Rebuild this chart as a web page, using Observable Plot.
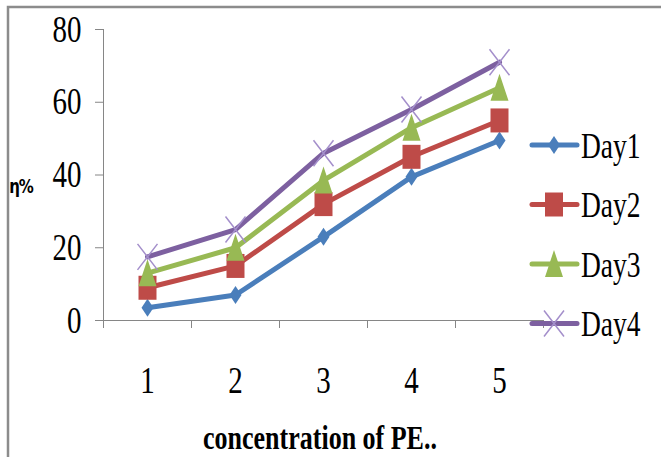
<!DOCTYPE html>
<html><head><meta charset="utf-8">
<script src="https://cdn.jsdelivr.net/npm/d3@7"></script>
<script src="https://cdn.jsdelivr.net/npm/@observablehq/plot@0.6"></script>
<style>
html,body{margin:0;padding:0;background:#fff;}
#chart{position:relative;width:661px;height:457px;overflow:hidden;}
</style></head>
<body><div id="chart"></div>
<script>
const categories = [1, 2, 3, 4, 5];
const seriesNames = ["Day1", "Day2", "Day3", "Day4"];
const day1 = [3.5, 7, 23, 39.5, 49.5];
const day2 = [9, 15, 32, 45, 55];
const day3 = [13, 20, 38.5, 53, 64];
const day4 = [17.5, 25, 46, 58, 71];
const yTicks = [0, 20, 40, 60, 80];
const colors = ["#4a7ebb", "#be4b48", "#98b954", "#7d60a0"];
const xLabel = "concentration of PE..";
const yLabel = "η%";

const seriesValues = [day1, day2, day3, day4];
const data = seriesNames.flatMap((s, i) => categories.map((c, j) => ({series: s, x: c, y: seriesValues[i][j]})));

function shape(kind) {
  return {draw(ctx, size) {
    const r = Math.sqrt(size / Math.PI) / 8;
    if (kind === "diamond") {
      ctx.moveTo(0, -9 * r); ctx.lineTo(6 * r, 0); ctx.lineTo(0, 9 * r); ctx.lineTo(-6 * r, 0); ctx.closePath();
    } else if (kind === "square") {
      ctx.rect(-9 * r, -12 * r, 18 * r, 24 * r);
    } else if (kind === "triangle") {
      ctx.moveTo(0, -14 * r); ctx.lineTo(9 * r, 13 * r); ctx.lineTo(-9 * r, 13 * r); ctx.closePath();
    } else {
      ctx.moveTo(-10 * r, -13 * r); ctx.lineTo(10 * r, 13 * r);
      ctx.moveTo(10 * r, -13 * r); ctx.lineTo(-10 * r, 13 * r);
    }
  }};
}
const symbols = [shape("diamond"), shape("square"), shape("triangle"), shape("times")];

const boundaries = [categories[0] - 0.5, ...categories.map(c => c + 0.5)];

const marks = [
  Plot.axisY({ticks: yTicks, tickSize: 8, tickPadding: 14, stroke: "#868686", fontSize: 29, label: null}),
  Plot.axisX({ticks: boundaries, tickSize: 8, tickFormat: () => "", stroke: "#868686", label: null}),
  Plot.axisX({ticks: categories, tickSize: 0, tickPadding: 46, fontSize: 29, tickFormat: d => String(d), label: null}),
  Plot.ruleY([0], {stroke: "#868686"}),
  Plot.ruleX([boundaries[0]], {stroke: "#868686"}),
];
seriesNames.forEach((s, i) => {
  const d = data.filter(e => e.series === s);
  marks.push(Plot.line(d, {x: "x", y: "y", stroke: colors[i], strokeWidth: 5}));
  if (i < 3) marks.push(Plot.dot(d, {x: "x", y: "y", symbol: () => symbols[i], r: 8, fill: colors[i], stroke: "none"}));
  else marks.push(Plot.dot(d, {x: "x", y: "y", symbol: () => symbols[i], r: 8, fill: "none", stroke: "#a48fcb", strokeWidth: 1.5}));
});

const plot = Plot.plot({
  width: 661, height: 457,
  marginLeft: 103, marginRight: 118, marginTop: 29, marginBottom: 137,
  style: {fontFamily: "'Liberation Serif', 'Times New Roman', serif", color: "#000", background: "transparent", overflow: "visible"},
  x: {type: "linear", domain: [boundaries[0], boundaries[boundaries.length - 1]]},
  y: {domain: [0, 80]},
  symbol: {type: "identity"},
  marks
});

const svg = d3.select(plot);
// stretch tick labels vertically (like the reference)
svg.selectAll("g[aria-label='y-axis tick label'] text, g[aria-label='x-axis tick label'] text").each(function() {
  const t = this.getAttribute("transform") || "";
  this.setAttribute("transform", t + " scale(1,1.3)");
});

// frame border
svg.insert("path", ":first-child").attr("d", "M8,470 L8,7 L670,7").attr("fill", "none").attr("stroke", "#8c8c8c").attr("stroke-width", 2.5);

// legend
const lg = svg.append("g").attr("text-anchor", "start");
seriesNames.forEach((s, i) => {
  const yy = 145 + i * 59.5;
  const g = lg.append("g");
  g.append("line").attr("x1", 532).attr("x2", 577).attr("y1", yy).attr("y2", yy).attr("stroke", colors[i]).attr("stroke-width", 5).attr("stroke-linecap", "round");
  const p = d3.path(); symbols[i].draw(p, 64 * Math.PI);
  g.append("path").attr("d", p.toString()).attr("transform", `translate(554,${yy})`)
    .attr("fill", i < 3 ? colors[i] : "none").attr("stroke", i < 3 ? "none" : "#a48fcb").attr("stroke-width", 1.5);
  g.append("text").attr("transform", `translate(581,${yy}) scale(1,1.3)`).attr("dy", "0.35em").attr("font-size", 27.5).text(s);
});

svg.append("text").attr("transform", "translate(21,186) scale(1,1.3)").attr("dy", "0.35em").attr("text-anchor", "middle")
  .attr("font-family", "'DejaVu Sans', sans-serif").attr("font-weight", "bold").attr("font-size", 15).attr("letter-spacing", -1).text(yLabel);
svg.append("text").attr("transform", "translate(320,437) scale(1,1.3)").attr("dy", "0.35em").attr("text-anchor", "middle")
  .attr("font-weight", "bold").attr("font-size", 26).text(xLabel);

document.getElementById("chart").appendChild(plot);
</script>
</body></html>
